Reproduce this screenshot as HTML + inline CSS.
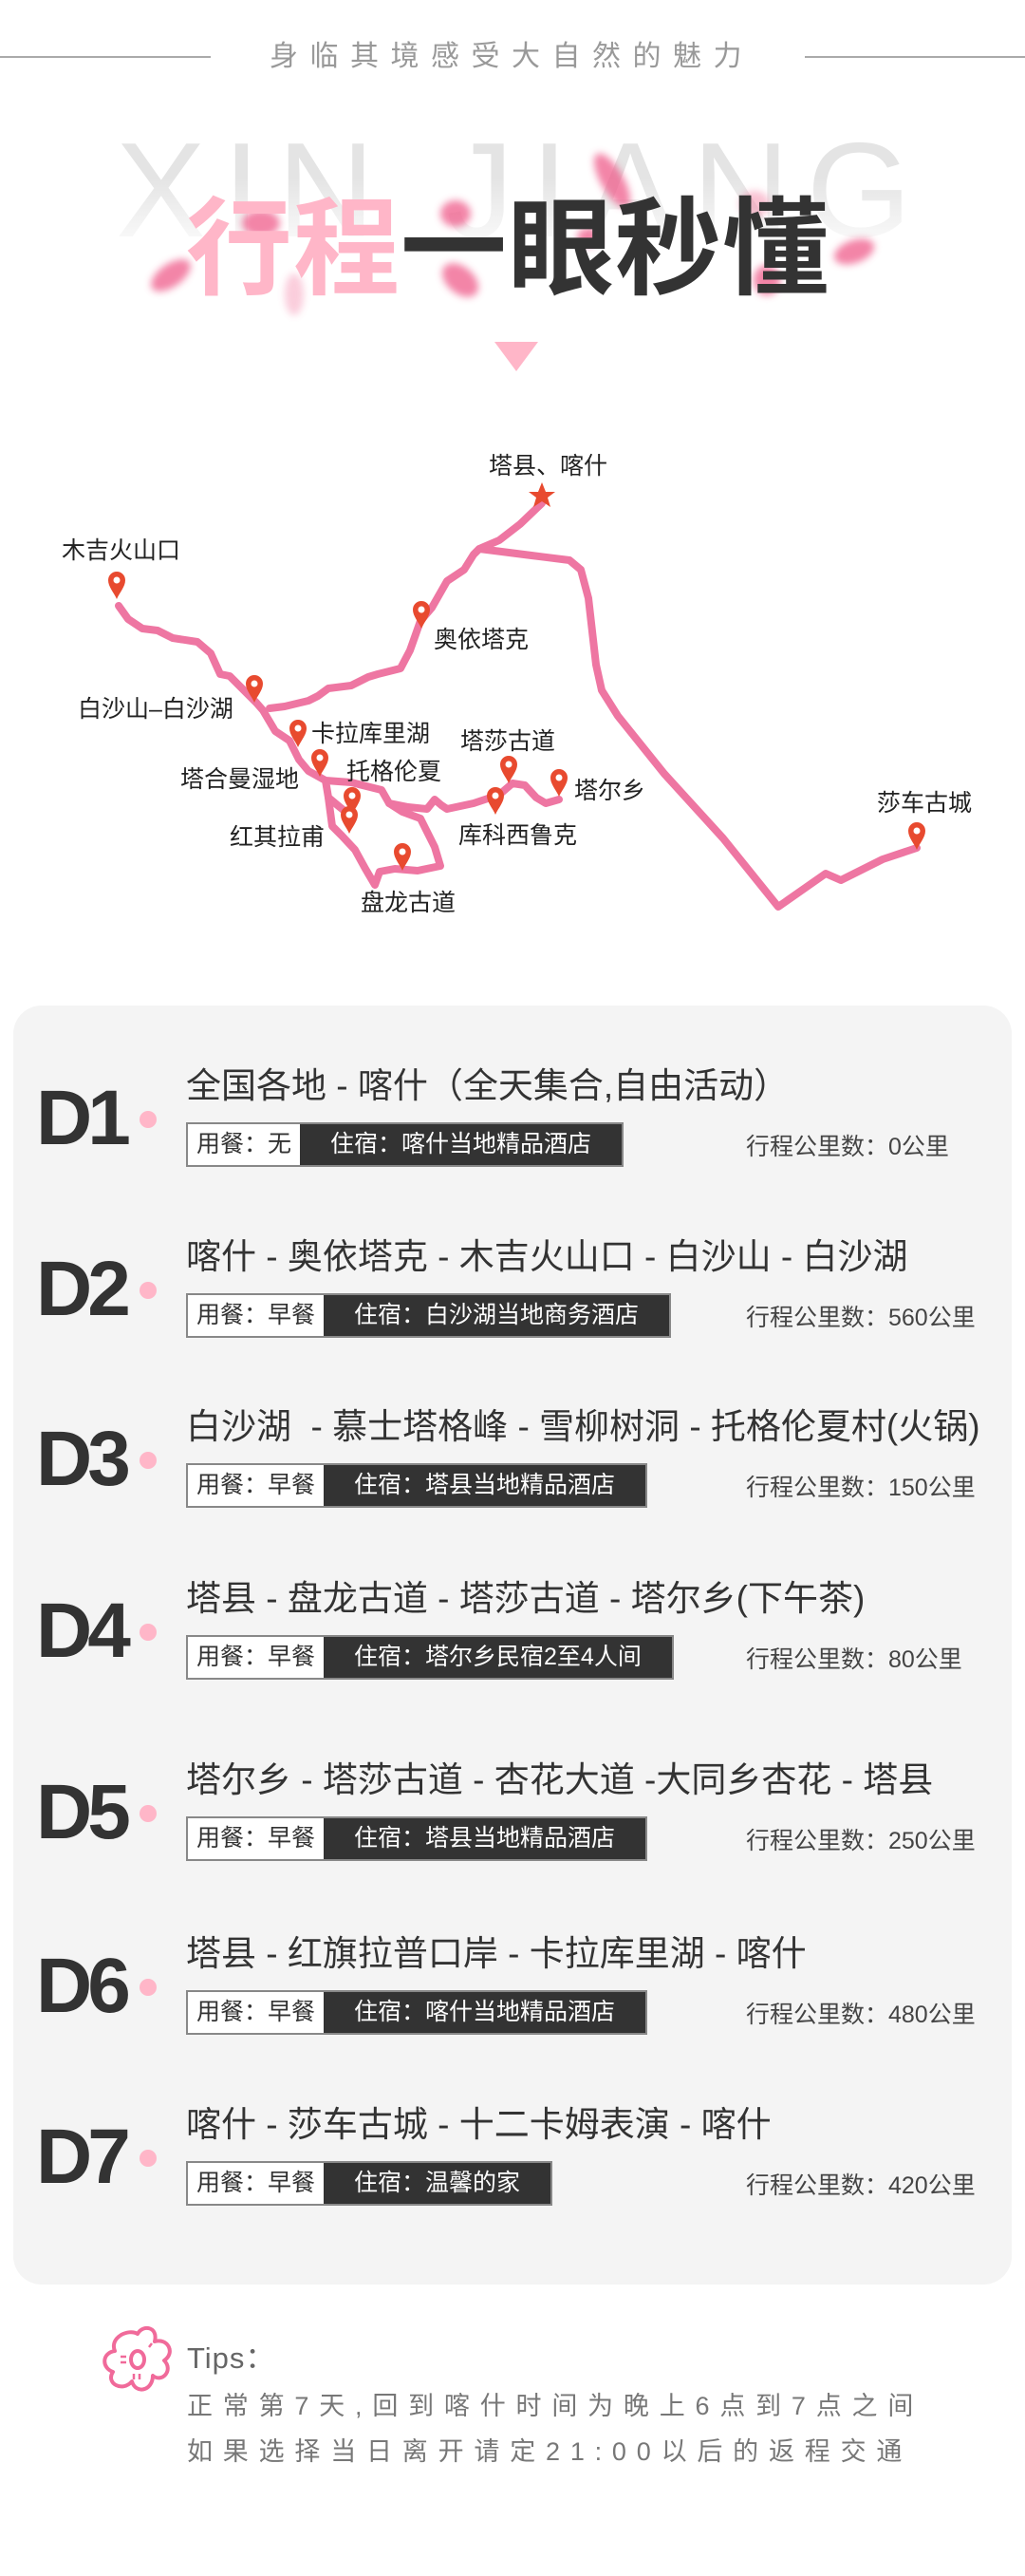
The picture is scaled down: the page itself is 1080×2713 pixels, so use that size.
<!DOCTYPE html>
<html><head><meta charset="utf-8">
<style>
*{margin:0;padding:0;box-sizing:border-box}
body{width:1080px;height:2713px;background:#fff;position:relative;overflow:hidden;font-family:"Liberation Sans","Noto Sans CJK SC",sans-serif;color:#333}
.abs{position:absolute}
.tag{position:absolute;left:196px;height:47px;display:flex;border:2px solid #888;font-size:25px;line-height:43px}
.tag .w{background:#fff;color:#333;padding:0 9px}
.tag .d{background:#333;color:#fff;padding:0 32px}
.title{position:absolute;left:196px;font-size:37px;line-height:40px;color:#333;white-space:nowrap}
.dl{position:absolute;left:38px;font-size:82px;font-weight:bold;letter-spacing:-5px;line-height:82px;color:#333}
.dot{position:absolute;left:147px;width:18px;height:18px;border-radius:50%;background:#ffb6c8}
.km{position:absolute;left:786px;font-size:25px;color:#444;white-space:nowrap}
</style></head><body>

<div class="abs" style="left:0;top:59px;width:222px;height:2px;background:#aaa"></div>
<div class="abs" style="left:848px;top:59px;width:232px;height:2px;background:#aaa"></div>
<div class="abs" style="left:284px;top:44px;font-size:30px;line-height:32px;color:#999;letter-spacing:12.5px;white-space:nowrap">身临其境感受大自然的魅力</div>

<div class="abs" style="left:122px;top:130px;width:1000px;font-size:142px;line-height:142px;letter-spacing:18px;white-space:nowrap;font-family:'Liberation Sans',sans-serif;background:linear-gradient(#e4e4e4 40%,#fff 100%);-webkit-background-clip:text;background-clip:text;color:transparent">XIN JIANG</div>

<svg class="abs" style="left:0;top:140px" width="1080" height="200">
<defs><filter id="b"><feGaussianBlur stdDeviation="4"/></filter></defs>
<g filter="url(#b)" fill="#ef5b8a" opacity=".75">
<ellipse cx="645" cy="50" rx="12" ry="32" transform="rotate(-30 645 50)"/>
<ellipse cx="275" cy="95" rx="20" ry="14"/>
<ellipse cx="180" cy="150" rx="24" ry="12" transform="rotate(-35 180 150)"/>
<ellipse cx="480" cy="85" rx="16" ry="14"/>
<ellipse cx="485" cy="155" rx="22" ry="14" transform="rotate(40 485 155)"/>
<ellipse cx="620" cy="110" rx="12" ry="10"/>
<ellipse cx="900" cy="125" rx="22" ry="12" transform="rotate(-20 900 125)"/>
<ellipse cx="808" cy="155" rx="14" ry="16"/>
<ellipse cx="795" cy="75" rx="16" ry="14" opacity=".5"/>
<ellipse cx="310" cy="170" rx="10" ry="22" opacity=".4"/>
</g></svg>
<div class="abs" style="left:196px;top:204px;font-size:112px;line-height:118px;font-weight:bold;white-space:nowrap;letter-spacing:1px"><span style="color:#ffb6c8">行程</span><span style="color:#333">一眼秒懂</span></div>

<div class="abs" style="left:521px;top:360px;width:0;height:0;border-left:23px solid transparent;border-right:23px solid transparent;border-top:31px solid #ffb6c8"></div>

<svg class="abs" style="left:0;top:0" width="1080" height="1000" font-family="Liberation Sans,Noto Sans CJK SC,sans-serif" font-size="25" fill="#222">
<g fill="none" stroke="#ee76a2" stroke-width="8" stroke-linecap="round" stroke-linejoin="round">
<path d="M571,530 L548,552 L526,569 L505,578 L499,584 L489,600 L471,612 L455,640 L443,654 L432,685 L422,704 L398,710 L388,713 L370,722 L346,725 L335,733 L325,738 L300,744 L284,746"/>
<path d="M505,578 L560,585 L600,590 L612,600 L620,630 L628,700 L634,727 L651,754 L700,815 L762,883 L820,955 L870,920 L886,927 L910,915 L930,905 L966,893"/>
<path d="M125,638 L135,652 L150,662 L166,664 L182,672 L208,676 L222,688 L232,710 L242,712 L258,728 L270,740 L277,748 L290,770 L305,780 L315,800 L325,812 L343,822 L370,824 L402,832 L410,846 L430,850 L450,852 L458,842 L465,848 L471,852 L499,846 L526,837 L540,825 L553,827 L565,840 L575,846 L589,842"/>
<path d="M343,822 L346,840 L350,870 L360,880 L374,895 L385,915 L395,932 L400,918 L416,915 L440,917 L464,912 L458,892 L443,862 L424,855 L410,846"/>
<path d="M346,840 L358,850 L368,858"/>
</g>
<polygon points="571,508 575,518 585,518 577,524 580,534 571,528 562,534 565,524 557,518 567,518" fill="#e84a2f"/>
<defs><g id="p"><path d="M0,0 C-3,-7 -9,-13 -9,-20 A9,9 0 1,1 9,-20 C9,-13 3,-7 0,0Z" fill="#e84a2f"/><circle cx="0" cy="-20" r="3.5" fill="#fff"/></g></defs>
<use href="#p" x="123" y="631"/>
<use href="#p" x="444" y="662"/>
<use href="#p" x="268" y="740"/>
<use href="#p" x="314" y="787"/>
<use href="#p" x="337" y="818"/>
<use href="#p" x="536" y="825"/>
<use href="#p" x="589" y="839"/>
<use href="#p" x="522" y="858"/>
<use href="#p" x="371" y="858"/>
<use href="#p" x="368" y="878"/>
<use href="#p" x="424" y="917"/>
<use href="#p" x="966" y="895"/>
<text x="515" y="499">塔县、喀什</text>
<text x="65" y="588">木吉火山口</text>
<text x="457" y="682">奥依塔克</text>
<text x="82" y="755">白沙山–白沙湖</text>
<text x="328" y="781">卡拉库里湖</text>
<text x="485" y="789">塔莎古道</text>
<text x="190" y="829">塔合曼湿地</text>
<text x="365" y="821">托格伦夏</text>
<text x="605" y="841">塔尔乡</text>
<text x="483" y="888">库科西鲁克</text>
<text x="242" y="890">红其拉甫</text>
<text x="380" y="959">盘龙古道</text>
<text x="924" y="854">莎车古城</text>
</svg>

<div class="abs" style="left:14px;top:1059px;width:1052px;height:1347px;background:#f4f4f4;border-radius:30px"></div>

<div class="dl" style="top:1137px">D1</div><div class="dot" style="top:1170px"></div>
<div class="title" style="top:1124px">全国各地 - 喀什（全天集合,自由活动）</div>
<div class="tag" style="top:1182px"><span class="w">用餐：无</span><span class="d">住宿：喀什当地精品酒店</span></div>
<div class="km" style="top:1188px">行程公里数：0公里</div>

<div class="dl" style="top:1317px">D2</div><div class="dot" style="top:1350px"></div>
<div class="title" style="top:1304px">喀什 - 奥依塔克 - 木吉火山口 - 白沙山 - 白沙湖</div>
<div class="tag" style="top:1362px"><span class="w">用餐：早餐</span><span class="d">住宿：白沙湖当地商务酒店</span></div>
<div class="km" style="top:1368px">行程公里数：560公里</div>

<div class="dl" style="top:1496px">D3</div><div class="dot" style="top:1529px"></div>
<div class="title" style="top:1483px">白沙湖 &nbsp;- 慕士塔格峰 - 雪柳树洞 - 托格伦夏村(火锅)</div>
<div class="tag" style="top:1541px"><span class="w">用餐：早餐</span><span class="d">住宿：塔县当地精品酒店</span></div>
<div class="km" style="top:1547px">行程公里数：150公里</div>

<div class="dl" style="top:1677px">D4</div><div class="dot" style="top:1710px"></div>
<div class="title" style="top:1664px">塔县 - 盘龙古道 - 塔莎古道 - 塔尔乡(下午茶)</div>
<div class="tag" style="top:1722px"><span class="w">用餐：早餐</span><span class="d">住宿：塔尔乡民宿2至4人间</span></div>
<div class="km" style="top:1728px">行程公里数：80公里</div>

<div class="dl" style="top:1868px">D5</div><div class="dot" style="top:1901px"></div>
<div class="title" style="top:1855px">塔尔乡 - 塔莎古道 - 杏花大道 -大同乡杏花 - 塔县</div>
<div class="tag" style="top:1913px"><span class="w">用餐：早餐</span><span class="d">住宿：塔县当地精品酒店</span></div>
<div class="km" style="top:1919px">行程公里数：250公里</div>

<div class="dl" style="top:2051px">D6</div><div class="dot" style="top:2084px"></div>
<div class="title" style="top:2038px">塔县 - 红旗拉普口岸 - 卡拉库里湖 - 喀什</div>
<div class="tag" style="top:2096px"><span class="w">用餐：早餐</span><span class="d">住宿：喀什当地精品酒店</span></div>
<div class="km" style="top:2102px">行程公里数：480公里</div>

<div class="dl" style="top:2231px">D7</div><div class="dot" style="top:2264px"></div>
<div class="title" style="top:2218px">喀什 - 莎车古城 - 十二卡姆表演 - 喀什</div>
<div class="tag" style="top:2276px"><span class="w">用餐：早餐</span><span class="d">住宿：温馨的家</span></div>
<div class="km" style="top:2282px">行程公里数：420公里</div>

<svg class="abs" style="left:105px;top:2448px" width="80" height="76" viewBox="0 0 80 76">
<g fill="none" stroke="#f06a9a" stroke-width="4" stroke-linejoin="round">
<path d="M40,10 C45,0 62,2 58,18 C72,14 80,30 68,38 C78,48 66,62 56,54 C56,70 38,74 34,60 C24,72 6,62 14,50 C2,46 2,30 16,28 C10,14 30,4 40,10Z"/>
<ellipse cx="40" cy="37" rx="7" ry="9"/>
</g>
<g stroke="#f06a9a" stroke-width="2.5"><line x1="22" y1="34" x2="28" y2="34"/><line x1="22" y1="40" x2="28" y2="40"/><line x1="36" y1="52" x2="36" y2="58"/><line x1="42" y1="52" x2="42" y2="58"/><line x1="52" y1="24" x2="55" y2="20"/></g>
</svg>
<div class="abs" style="left:197px;top:2466px;font-size:31px;line-height:36px;color:#666;letter-spacing:1px">Tips：</div>
<div class="abs" style="left:197px;top:2518px;font-size:27px;line-height:32px;color:#777;letter-spacing:10.8px;white-space:nowrap">正常第7天,回到喀什时间为晚上6点到7点之间</div>
<div class="abs" style="left:197px;top:2566px;font-size:27px;line-height:32px;color:#777;letter-spacing:10.8px;white-space:nowrap">如果选择当日离开请定21:00以后的返程交通</div>

</body></html>
